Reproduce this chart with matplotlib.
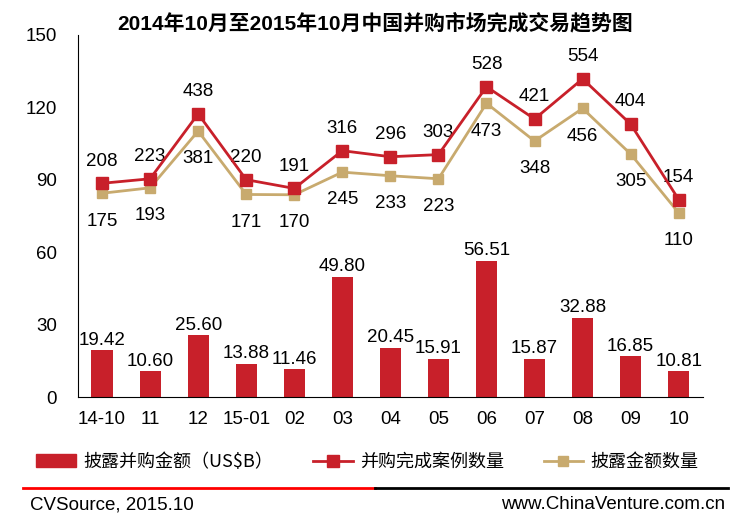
import numpy as np
import matplotlib.pyplot as plt
from matplotlib.lines import Line2D
from matplotlib.patches import Patch

plt.rcParams['font.family'] = ['Liberation Sans', 'Noto Sans CJK SC']

months = ['14-10', '11', '12', '15-01', '02', '03', '04', '05', '06', '07', '08', '09', '10']
amount = [19.42, 10.60, 25.60, 13.88, 11.46, 49.80, 20.45, 15.91, 56.51, 15.87, 32.88, 16.85, 10.81]
deals = [208, 223, 438, 220, 191, 316, 296, 303, 528, 421, 554, 404, 154]
disclosed = [175, 193, 381, 171, 170, 245, 233, 223, 473, 348, 456, 305, 110]

red = '#C8202A'
tan = '#C8AA6E'

fig = plt.figure(figsize=(7.5, 5.19), dpi=100)
ax = fig.add_axes([0.104, 0.235, 0.833, 0.698])
x = np.arange(len(months))

# bars
ax.bar(x, amount, width=0.44, color=red, zorder=2)
for i, v in enumerate(amount):
    ax.annotate('%.2f' % v, (x[i], v), xytext=(0, 1), textcoords='offset points',
                ha='center', va='bottom', fontsize=13.5)

ax.set_xlim(-0.5, 12.5)
ax.set_ylim(0, 150)
ax.set_yticks([0, 30, 60, 90, 120, 150])
ax.set_xticks(x)
ax.set_xticklabels(months)
ax.tick_params(axis='both', length=0, labelsize=13.5)
ax.tick_params(axis='y', pad=15)
ax.tick_params(axis='x', pad=10)
for s in ['top', 'right']:
    ax.spines[s].set_visible(False)

# lines on hidden secondary axis
ax2 = ax.twinx()
ax2.set_ylim(-500, 700)
ax2.axis('off')
ax2.plot(x, deals, color=red, lw=2, marker='s', ms=9, zorder=4)
ax2.plot(x, disclosed, color=tan, lw=2, marker='s', ms=7, zorder=3)
for i in range(len(months)):
    ax2.annotate(str(deals[i]), (x[i], deals[i]), xytext=(0, 16), textcoords='offset points',
                 ha='center', va='center', fontsize=13.5)
    ax2.annotate(str(disclosed[i]), (x[i], disclosed[i]), xytext=(0, -20), textcoords='offset points',
                 ha='center', va='center', fontsize=13.5)

fig.text(0.5, 0.956, '2014年10月至2015年10月中国并购市场完成交易趋势图', ha='center', va='center',
         fontsize=15, fontweight='bold')

# legend
handles = [Patch(color=red),
           Line2D([0], [0], color=red, lw=2, marker='s', ms=9),
           Line2D([0], [0], color=tan, lw=2, marker='s', ms=7)]
labels = ['披露并购金额（US$B）', '并购完成案例数量', '披露金额数量']
fig.legend(handles, labels, loc='center', bbox_to_anchor=(0.49, 0.11), ncol=3, frameon=False,
           handlelength=2.2, columnspacing=2.2, handletextpad=0.4,
           prop={'family': ['Noto Sans CJK SC'], 'size': 13})

# footer
fig.add_artist(Line2D([0.03, 0.5], [0.06, 0.06], color='red', lw=2))
fig.add_artist(Line2D([0.5, 0.97], [0.06, 0.06], color='black', lw=2))
fig.text(0.04, 0.027, 'CVSource, 2015.10', ha='left', va='center', fontsize=13.5)
fig.text(0.967, 0.027, 'www.ChinaVenture.com.cn', ha='right', va='center', fontsize=13.5)

plt.savefig('out.png', dpi=100)
